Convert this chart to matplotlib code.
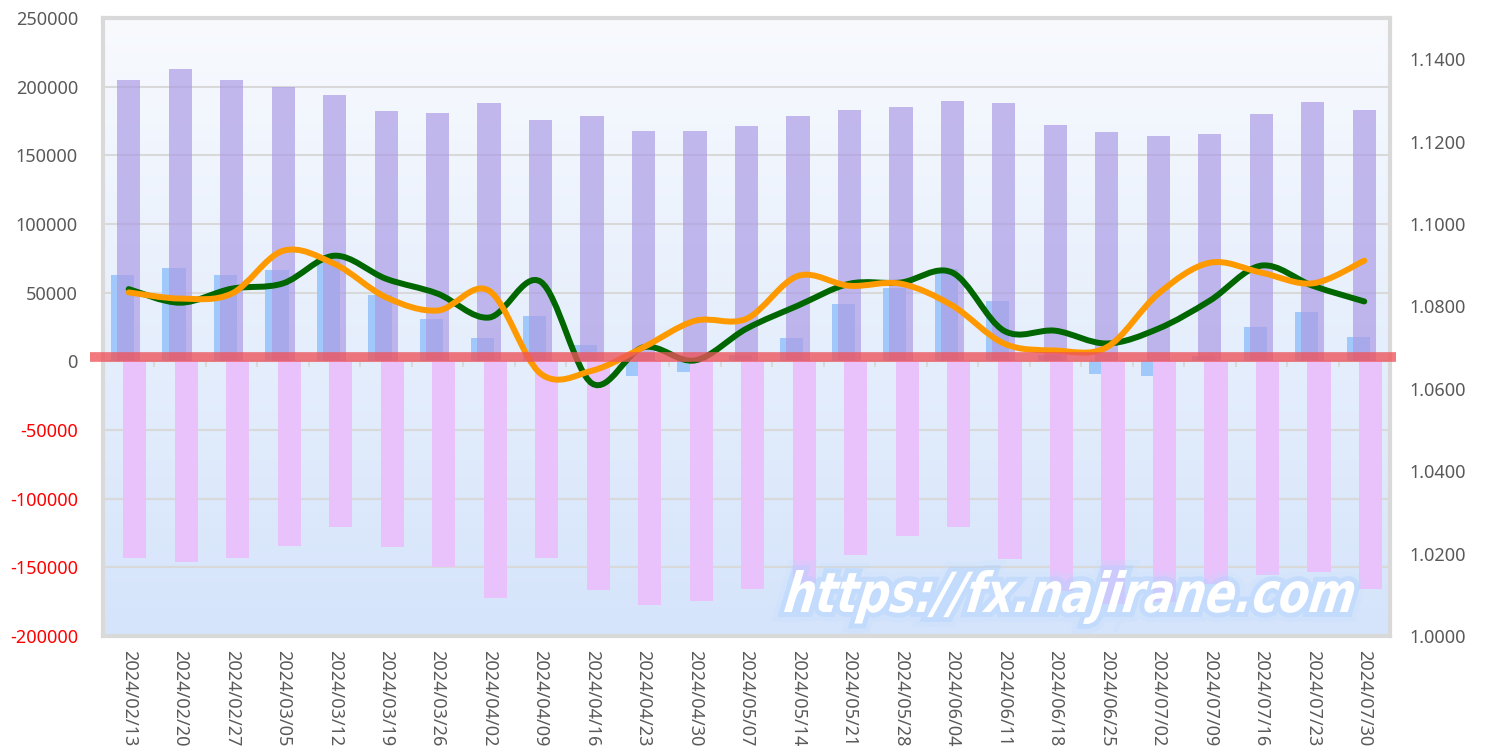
import numpy as np
import matplotlib
matplotlib.use("Agg")
import matplotlib.pyplot as plt
from matplotlib.path import Path
from matplotlib.patches import PathPatch
from matplotlib.textpath import TextPath
from matplotlib.font_manager import FontProperties
import matplotlib.transforms as mtransforms
import matplotlib.patheffects as pe

plt.rcParams['font.family'] = ['Noto Sans', 'DejaVu Sans']

# weekly dates
dates = ['2024/02/13', '2024/02/20', '2024/02/27', '2024/03/05', '2024/03/12',
         '2024/03/19', '2024/03/26', '2024/04/02', '2024/04/09', '2024/04/16',
         '2024/04/23', '2024/04/30', '2024/05/07', '2024/05/14', '2024/05/21',
         '2024/05/28', '2024/06/04', '2024/06/11', '2024/06/18', '2024/06/25',
         '2024/07/02', '2024/07/09', '2024/07/16', '2024/07/23', '2024/07/30']

# positions (left axis)
long_pos = [205000, 213200, 205000, 200100, 193800, 182200, 180500, 187800, 175400,
            179000, 167400, 167400, 171000, 178300, 182700, 184900, 189200, 187800,
            171800, 166900, 164200, 165700, 179800, 188500, 182700]
short_pos = [-143100, -146000, -143100, -134400, -120600, -134900, -149900, -172500,
             -143400, -166700, -177600, -174700, -165900, -161600, -141200, -127400,
             -120800, -144100, -167400, -176400, -174900, -162100, -155700, -153600,
             -165900]
net_pos = [62600, 67700, 62600, 66200, 74700, 48000, 30600, 17000, 32800, 11600,
           -10700, -7800, 4400, 16700, 41500, 53600, 67500, 43700, 4400, -9500,
           -10700, 3600, 24700, 35700, 17500]

# rates (right axis)
green_rate = [1.0842, 1.0809, 1.0843, 1.0856, 1.0923, 1.0867, 1.0831, 1.0773, 1.0860,
              1.0613, 1.0701, 1.0669, 1.0746, 1.0802, 1.0855, 1.0858, 1.0882, 1.0741,
              1.0741, 1.0710, 1.0746, 1.0814, 1.0899, 1.0850, 1.0812]
orange_rate = [1.0834, 1.0819, 1.0831, 1.0935, 1.0903, 1.0822, 1.0790, 1.0838, 1.0637,
               1.0644, 1.0701, 1.0765, 1.0770, 1.0874, 1.0850, 1.0855, 1.0802, 1.0710,
               1.0693, 1.0701, 1.0831, 1.0906, 1.0882, 1.0856, 1.0911]

zero_band = 3000
watermark = 'https://fx.najirane.com'


def smooth_path(xs, ys):
    # excel-like smoothed line: catmull-rom converted to bezier segments
    pts = np.column_stack([xs, ys]).astype(float)
    n = len(pts)
    verts = [pts[0]]
    codes = [Path.MOVETO]
    for i in range(n - 1):
        p0 = pts[i - 1] if i > 0 else pts[i]
        p1 = pts[i]
        p2 = pts[i + 1]
        p3 = pts[i + 2] if i + 2 < n else pts[i + 1]
        c1 = p1 + (p2 - p0) / 6.0
        c2 = p2 - (p3 - p1) / 6.0
        verts += [c1, c2, p2]
        codes += [Path.CURVE4] * 3
    return Path(verts, codes)


fig = plt.figure(figsize=(14.9, 7.56), dpi=100)
ax = fig.add_axes([0.0691, 0.1587, 0.8638, 0.8175])
ax2 = ax.twinx()

x = np.arange(len(dates))

# background gradient
grad = np.linspace(0, 1, 256).reshape(-1, 1)
top_c = np.array([248, 250, 254]) / 255
bot_c = np.array([213, 228, 251]) / 255
img = top_c[None, None, :] * (1 - grad[:, :, None]) + bot_c[None, None, :] * grad[:, :, None]
ax.imshow(img, extent=[0, 1, 0, 1], transform=ax.transAxes, aspect='auto', zorder=-2)

w = 0.45
ax.bar(x - 0.12, net_pos, width=w, color='#A0C8FA', zorder=2)
ax.bar(x, long_pos, width=w, color='#AB9BE5', alpha=0.69, zorder=3)
ax.bar(x + 0.12, short_pos, width=w, color='#E9C1FB', zorder=3)

# small category ticks on the zero axis
ax.vlines(x[:-1] + 0.5, -3800, 0, color='#D9D9D9', lw=1.5, zorder=1)

ax.set_xlim(-0.5, len(dates) - 0.5)
ax.set_ylim(-200000, 250000)
yt = np.arange(-200000, 250001, 50000)
ax.set_yticks(yt)
ax.set_yticklabels([str(v) for v in yt])
for lab, v in zip(ax.get_yticklabels(), yt):
    lab.set_color('#FF0000' if v < 0 else '#595959')
ax.yaxis.grid(True, color='#D9D9D9', lw=1.5)
ax.set_axisbelow(True)
ax.tick_params(axis='y', length=0, pad=18, labelsize=13)

ax.set_xticks(x)
ax.set_xticklabels(dates, rotation=270, color='#595959', fontsize=13)
ax.tick_params(axis='x', length=0, pad=10)
for lab in ax.get_xticklabels():
    lab.set_va('top')
    lab.set_ha('center')

for s in ax.spines.values():
    s.set_color('#D9D9D9')
    s.set_linewidth(3)
for s in ax2.spines.values():
    s.set_visible(False)

ax2.set_ylim(1.0, 1.15)
rt = np.arange(1.0, 1.1401, 0.02)
ax2.set_yticks(rt)
ax2.set_yticklabels(['%.4f' % v for v in rt])
ax2.tick_params(axis='y', length=0, pad=14, labelsize=13, colors='#595959')

ax2.add_patch(PathPatch(smooth_path(x, green_rate), facecolor='none',
                        edgecolor='#006600', lw=4.3, capstyle='round', zorder=4))
ax2.add_patch(PathPatch(smooth_path(x, orange_rate), facecolor='none',
                        edgecolor='#FF9900', lw=4.3, capstyle='round', zorder=5))

# red band around zero
trans = mtransforms.blended_transform_factory(ax2.transAxes, ax.transData)
ax2.plot([-0.0101, 1.0047], [zero_band, zero_band], transform=trans, color='#EF535A',
         alpha=0.78, lw=7, solid_capstyle='butt', clip_on=False, zorder=6)

# watermark, squeezed to a condensed heavy italic look
tp = TextPath((0, 0), watermark, size=1,
              prop=FontProperties(family='DejaVu Sans', weight='bold', style='italic'))
ext = tp.get_extents()
H = fig.get_figheight() * fig.dpi
sy = 42.0 / ext.y1
sx = 567.0 / ext.width
wm_tr = (mtransforms.Affine2D().translate(-ext.x0, 0).scale(sx, sy).skew_deg(8, 0)
         .translate(784, H - 612))
wm = PathPatch(wm_tr.transform_path(tp), facecolor='white', edgecolor='none',
               transform=mtransforms.IdentityTransform(), zorder=10)
wm.set_path_effects([pe.Stroke(linewidth=14, foreground='#C2DDFF', alpha=0.22),
                     pe.Stroke(linewidth=7, foreground='#A9CEFF', alpha=0.35),
                     pe.Normal()])
fig.add_artist(wm)

fig.savefig('out.png', dpi=100)
